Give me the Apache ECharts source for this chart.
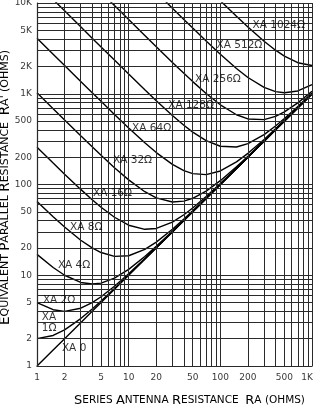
<!DOCTYPE html>
<html>
<head>
<meta charset="utf-8">
<script src="https://cdn.jsdelivr.net/npm/echarts@6/dist/echarts.min.js"></script>
<style>
html,body{margin:0;padding:0;background:#fff;}
#c{width:314px;height:405px;}
</style>
</head>
<body>
<div id="c"></div>
<script>
// ---- data ----
var raValues = [1, 1.5, 2, 3, 4, 5, 7, 10, 15, 20, 30, 40, 50, 70, 100, 150, 200, 300, 400, 500, 700, 1000];

var xa0    = [1, 1.5, 2, 3, 4, 5, 7, 10, 15, 20, 30, 40, 50, 70, 100, 150, 200, 300, 400, 500, 700, 1000];
var xa1    = [2, 2.17, 2.5, 3.33, 4.25, 5.2, 7.14, 10.1, 15.07, 20.05, 30.03, 40.03, 50.02, 70.01, 100, 150, 200, 300, 400, 500, 700, 1000];
var xa2    = [5, 4.17, 4, 4.33, 5, 5.8, 7.57, 10.4, 15.27, 20.2, 30.13, 40.1, 50.08, 70.06, 100.04, 150.03, 200.02, 300.01, 400.01, 500.01, 700.01, 1000];
var xa4    = [17, 12.17, 10, 8.33, 8, 8.2, 9.29, 11.6, 16.07, 20.8, 30.53, 40.4, 50.32, 70.23, 100.16, 150.11, 200.08, 300.05, 400.04, 500.03, 700.02, 1000.02];
var xa8    = [65, 44.17, 34, 24.33, 20, 17.8, 16.14, 16.4, 19.27, 23.2, 32.13, 41.6, 51.28, 70.91, 100.64, 150.43, 200.32, 300.21, 400.16, 500.13, 700.09, 1000.06];
var xa16   = [257, 172.2, 130, 88.33, 68, 56.2, 43.57, 35.6, 32.07, 32.8, 38.53, 46.4, 55.12, 73.66, 102.56, 151.71, 201.28, 300.85, 400.64, 500.51, 700.37, 1000.26];
var xa32   = [1025, 684.2, 514, 344.3, 260, 209.8, 153.3, 112.4, 83.27, 71.2, 64.13, 65.6, 70.48, 84.63, 110.24, 156.83, 205.12, 303.41, 402.56, 502.05, 701.46, 1001.02];
var xa64   = [4097, 2732, 2050, 1368, 1028, 824.2, 592.1, 419.6, 288.1, 224.8, 166.5, 142.4, 131.9, 128.5, 141, 177.3, 220.5, 313.7, 410.2, 508.2, 705.9, 1004.1];
var xa128  = [16385, 10924, 8194, 5464, 4100, 3282, 2347.6, 1648.4, 1107.3, 839.2, 576.1, 449.6, 377.7, 304.1, 263.8, 259.2, 281.9, 354.6, 441, 532.8, 723.4, 1016.4];
var xa256  = [null, null, null, null, null, 13112, 9369, 6563.6, 4384, 3296.8, 2214.5, 1678.4, 1360.7, 1006.2, 755.4, 586.9, 527.7, 518.5, 563.8, 631.1, 793.6, 1065.5];
var xa512  = [null, null, null, null, null, null, null, null, null, 13127, 8768, 6594, 5293, 3815, 2721, 1898, 1511, 1174, 1055, 1024, 1074, 1262];
var xa1024 = [null, null, null, null, null, null, null, null, null, null, null, null, null, null, 10586, 7140, 5443, 3795, 3021, 2597, 2198, 2049];

var curveNames = ['XA 0', 'XA 1Ω', 'XA 2Ω', 'XA 4Ω', 'XA 8Ω', 'XA 16Ω', 'XA 32Ω', 'XA 64Ω', 'XA 128Ω', 'XA 256Ω', 'XA 512Ω', 'XA 1024Ω'];
var curveLabels = ['XA 0', 'XA\n1Ω', 'XA 2Ω', 'XA 4Ω', 'XA 8Ω', 'XA 16Ω', 'XA 32Ω', 'XA 64Ω', 'XA 128Ω', 'XA 256Ω', 'XA 512Ω', 'XA 1024Ω'];

var xTickValues = [1, 2, 5, 10, 20, 50, 100, 200, 500, 1000];
var xTickLabels = ['1', '2', '5', '10', '20', '50', '100', '200', '500', '1K'];
var yTickValues = [1, 2, 5, 10, 20, 50, 100, 200, 500, 1000, 2000, 5000, 10000];
var yTickLabels = ['1', '2', '5', '10', '20', '50', '100', '200', '500', '1K', '2K', '5K', '10K'];

var xTitle = 'SERIES ANTENNA RESISTANCE  RA (OHMS)';
var yTitle = "EQUIVALENT PARALLEL RESISTANCE  RA' (OHMS)";

// ---- build chart ----
var curves = [xa0, xa1, xa2, xa4, xa8, xa16, xa32, xa64, xa128, xa256, xa512, xa1024];

// label anchor points (data coords, left-middle of text)
var labelAnchors = [
  [1.87, 1.58], [1.13, 2.98], [1.16, 5.34], [1.69, 13], [2.29, 34], [4.08, 80.5],
  [6.75, 186], [10.9, 419], [27, 751], [53, 1455], [91, 3445], [225, 5725]
];

function gridVals(maxExp) {
  var v = [];
  for (var e = 0; e < maxExp; e++) {
    for (var m = 1; m <= 9; m++) v.push(m * Math.pow(10, e));
  }
  v.push(Math.pow(10, maxExp));
  return v;
}
var gx = gridVals(3), gy = gridVals(4);

function smallCaps(s) {
  return s.split(' ').map(function (w) {
    if (!w) return '';
    if (w[0] === '(') return '{s|' + w + '}';
    return '{b|' + w[0] + '}' + (w.length > 1 ? '{s|' + w.slice(1) + '}' : '');
  }).join(' ');
}

var series = [];

var ml = [];
gx.forEach(function (v) { ml.push({ xAxis: v }); });
gy.forEach(function (v) { ml.push({ yAxis: v }); });
series.push({
  type: 'scatter', data: [[1, 1]], symbolSize: 0, silent: true, z: 1,
  markLine: {
    silent: true, symbol: ['none', 'none'], label: { show: false },
    animation: false,
    lineStyle: { color: '#2a2a2a', width: 1, type: 'solid' },
    data: ml
  }
});

curves.forEach(function (arr, i) {
  series.push({
    name: curveNames[i], type: 'line', showSymbol: false, symbol: 'none',
    z: 3, clip: true, animation: false,
    lineStyle: { color: '#000', width: 1.4 },
    data: raValues.map(function (x, j) { return [x, arr[j]]; })
  });
});

series.push({
  type: 'scatter', symbolSize: 0, z: 5, clip: false, silent: true, animation: false,
  data: labelAnchors.map(function (p, i) {
    return { value: p, label: { formatter: curveLabels[i] } };
  }),
  label: {
    show: true, position: 'right', distance: 0, color: '#000',
    fontFamily: 'DejaVu Sans', fontSize: 10.5, lineHeight: 11
  }
});

series.push({
  type: 'scatter', symbolSize: 0, z: 5, clip: false, silent: true, animation: false,
  data: xTickValues.map(function (v, i) {
    var d = { value: [v, 1], label: { formatter: xTickLabels[i] } };
    if (i === xTickValues.length - 1) d.label.offset = [-5, 0];
    return d;
  }),
  label: { show: true, position: 'bottom', distance: 7, color: '#000', fontFamily: 'DejaVu Sans', fontSize: 9 }
});
series.push({
  type: 'scatter', symbolSize: 0, z: 5, clip: false, silent: true, animation: false,
  data: yTickValues.map(function (v, i) { return { value: [1, v], label: { formatter: yTickLabels[i] } }; }),
  label: { show: true, position: 'left', distance: 5, color: '#000', fontFamily: 'DejaVu Sans', fontSize: 9 }
});

var xRich = {
  b: { fontSize: 13, color: '#000', fontFamily: 'DejaVu Sans' },
  s: { fontSize: 10.5, color: '#000', fontFamily: 'DejaVu Sans' }
};
var yRich = {
  b: { fontSize: 13.5, color: '#000', fontFamily: 'DejaVu Sans' },
  s: { fontSize: 11, color: '#000', fontFamily: 'DejaVu Sans' }
};

var option = {
  backgroundColor: '#fff',
  animation: false,
  grid: { left: 37, right: 2, top: 3, bottom: 39, containLabel: false, outerBoundsMode: 'none' },
  xAxis: {
    type: 'log', logBase: 10, min: 1, max: 1000,
    axisLine: { show: true, lineStyle: { color: '#000', width: 1.2 } },
    axisTick: { show: false }, axisLabel: { show: false }, splitLine: { show: false },
    name: smallCaps(xTitle), nameLocation: 'middle', nameGap: 28,
    nameTextStyle: { rich: xRich, padding: [0, 0, 0, 30] }
  },
  yAxis: {
    type: 'log', logBase: 10, min: 1, max: 10000,
    axisLine: { show: true, lineStyle: { color: '#000', width: 1.2 } },
    axisTick: { show: false }, axisLabel: { show: false }, splitLine: { show: false },
    name: smallCaps(yTitle), nameLocation: 'middle', nameGap: 25, nameRotate: 90,
    nameTextStyle: { rich: yRich, padding: [0, 6, 0, 0] }
  },
  series: series
};

var chart = echarts.init(document.getElementById('c'), null, { renderer: 'canvas' });
chart.setOption(option);
</script>
</body>
</html>
